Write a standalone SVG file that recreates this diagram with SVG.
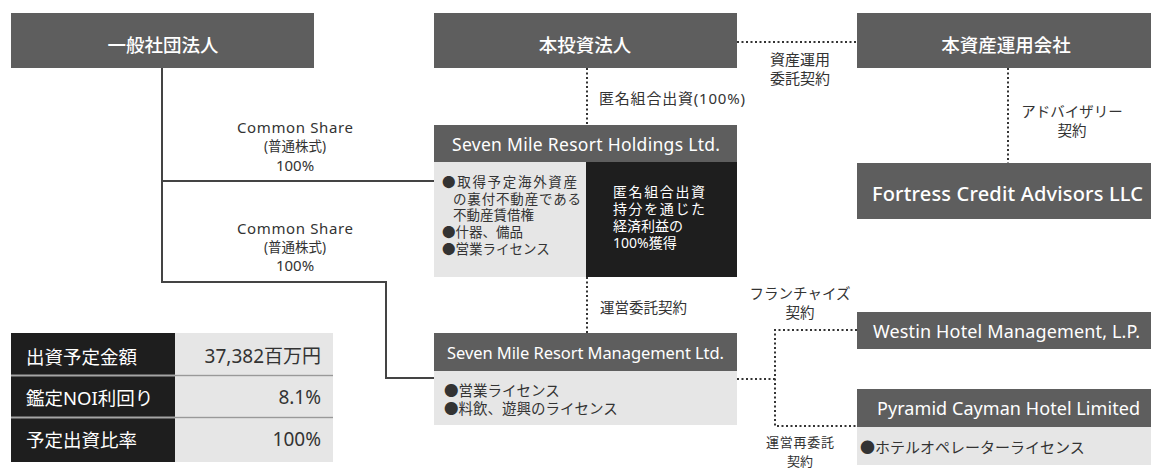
<svg xmlns="http://www.w3.org/2000/svg" width="1151" height="470" viewBox="0 0 1151 470">
<style>
text{font-family:"Noto Sans","Noto Sans CJK JP",sans-serif}
.hd{fill:#5e5e5e}
.lt{fill:#e6e6e6}
.bk{fill:#1e1e1e}
.ht{fill:#fff;font-size:18.5px;font-weight:500;text-anchor:middle;dominant-baseline:central}
.hs{fill:#fff;font-size:17.5px;text-anchor:middle;dominant-baseline:central}
.lb{fill:#333;font-size:14.5px;text-anchor:middle;dominant-baseline:central}
.la{fill:#333;font-size:15px;dominant-baseline:central}
.ls{fill:#333;font-size:14.5px;dominant-baseline:central}
.lh{fill:#333;font-size:13.5px;dominant-baseline:central}
.wt{fill:#fff;font-size:14px;dominant-baseline:central}
.tl{fill:#fff;font-size:18.5px;dominant-baseline:central}
.tv{fill:#333;font-size:19px;text-anchor:end;dominant-baseline:central}
.sl{fill:none;stroke:#444;stroke-width:2}
.dl{fill:none;stroke:#333;stroke-width:2;stroke-dasharray:2 2.5}
</style>
<g id="connectors">
<path class="sl" d="M162 68V282H386V378H434"/>
<path class="sl" d="M162 181H434"/>
<path class="dl" d="M587 68V125"/>
<path class="dl" d="M737 42H857"/>
<path class="dl" d="M1008 68V163"/>
<path class="dl" d="M587 277V333"/>
<path class="dl" d="M737 379H775"/>
<path class="dl" d="M857 330H775V426H857"/>
</g>
<g id="labels">
<text class="lb" x="800" y="59" style="font-size:15px">資産運用</text>
<text class="lb" x="800" y="78" style="font-size:15px">委託契約</text>
<text class="la" x="599" y="98" textLength="146">匿名組合出資(100%)</text>
<text class="lb" x="1072" y="111">アドバイザリー</text>
<text class="lb" x="1072" y="130">契約</text>
<text class="lb" x="295" y="127" style="font-size:15px" textLength="116">Common Share</text>
<text class="lb" x="295" y="146" style="font-size:13.5px">(普通株式)</text>
<text class="lb" x="295" y="165" style="font-size:15px">100%</text>
<text class="lb" x="295" y="228" style="font-size:15px" textLength="116">Common Share</text>
<text class="lb" x="295" y="247" style="font-size:13.5px">(普通株式)</text>
<text class="lb" x="295" y="265" style="font-size:15px">100%</text>
<text class="la" x="600" y="307" style="font-size:14.5px">運営委託契約</text>
<text class="lb" x="800" y="293">フランチャイズ</text>
<text class="lb" x="800" y="312">契約</text>
<text class="lb" x="800" y="442" style="font-size:13px" textLength="68">運営再委託</text>
<text class="lb" x="800" y="461" style="font-size:13px">契約</text>
</g>
<g id="ippan">
<rect class="hd" x="11" y="13" width="303" height="55"/>
<text class="ht" x="163" y="44">一般社団法人</text>
</g>
<g id="toushi">
<rect class="hd" x="434" y="13" width="303" height="55"/>
<text class="ht" x="585" y="44">本投資法人</text>
</g>
<g id="unyou">
<rect class="hd" x="857" y="13" width="294" height="55"/>
<text class="ht" x="1006" y="44">本資産運用会社</text>
</g>
<g id="fortress">
<rect class="hd" x="857" y="163" width="294" height="56"/>
<text class="ht" x="1007.5" y="193" style="font-size:20px" textLength="271">Fortress Credit Advisors LLC</text>
</g>
<g id="holdings">
<rect class="hd" x="434" y="125" width="303" height="37"/>
<rect class="lt" x="434" y="162" width="152" height="115"/>
<rect class="bk" x="586" y="162" width="151" height="115"/>
<text class="hs" x="586" y="144" textLength="268">Seven Mile Resort Holdings Ltd.</text>
<text class="lh" x="442" y="182" textLength="135">●取得予定海外資産</text>
<text class="lh" x="453" y="199" textLength="128">の裏付不動産である</text>
<text class="lh" x="453" y="215">不動産賃借権</text>
<text class="lh" x="442" y="232">●什器、備品</text>
<text class="lh" x="442" y="249">●営業ライセンス</text>
<text class="wt" x="613" y="191" textLength="92">匿名組合出資</text>
<text class="wt" x="613" y="208" textLength="92">持分を通じた</text>
<text class="wt" x="613" y="225">経済利益の</text>
<text class="wt" x="613" y="242">100%獲得</text>
</g>
<g id="management">
<rect class="hd" x="434" y="333" width="303" height="38"/>
<rect class="lt" x="434" y="371" width="303" height="54"/>
<text class="hs" x="585.5" y="352" style="font-size:16.5px" textLength="277">Seven Mile Resort Management Ltd.</text>
<text class="ls" x="444" y="390">●営業ライセンス</text>
<text class="ls" x="444" y="408">●料飲、遊興のライセンス</text>
</g>
<g id="westin">
<rect class="hd" x="857" y="312" width="294" height="37"/>
<text class="hs" x="1006.5" y="331" style="font-size:18px" textLength="267">Westin Hotel Management, L.P.</text>
</g>
<g id="pyramid">
<rect class="hd" x="857" y="389" width="294" height="38"/>
<rect class="lt" x="857" y="427" width="294" height="38"/>
<text class="hs" x="1008.5" y="408" style="font-size:18px" textLength="263">Pyramid Cayman Hotel Limited</text>
<text class="ls" x="860" y="447" style="font-size:15px">●ホテルオペレーターライセンス</text>
</g>
<g id="table">
<rect class="bk" x="11" y="333" width="164" height="129"/>
<rect class="lt" x="175" y="333" width="158" height="129"/>
<path d="M11 375.5H333M11 417.5H333" stroke="#fff" stroke-width="2" opacity="0.6"/>
<path d="M175 375.5H333M175 417.5H333" stroke="#999" stroke-width="1.5"/>
<text class="tl" x="26" y="356">出資予定金額</text>
<text class="tl" x="26" y="397">鑑定NOI利回り</text>
<text class="tl" x="26" y="439">予定出資比率</text>
<text class="tv" x="321" y="356">37,382百万円</text>
<text class="tv" x="321" y="397">8.1%</text>
<text class="tv" x="321" y="439">100%</text>
</g>
</svg>
